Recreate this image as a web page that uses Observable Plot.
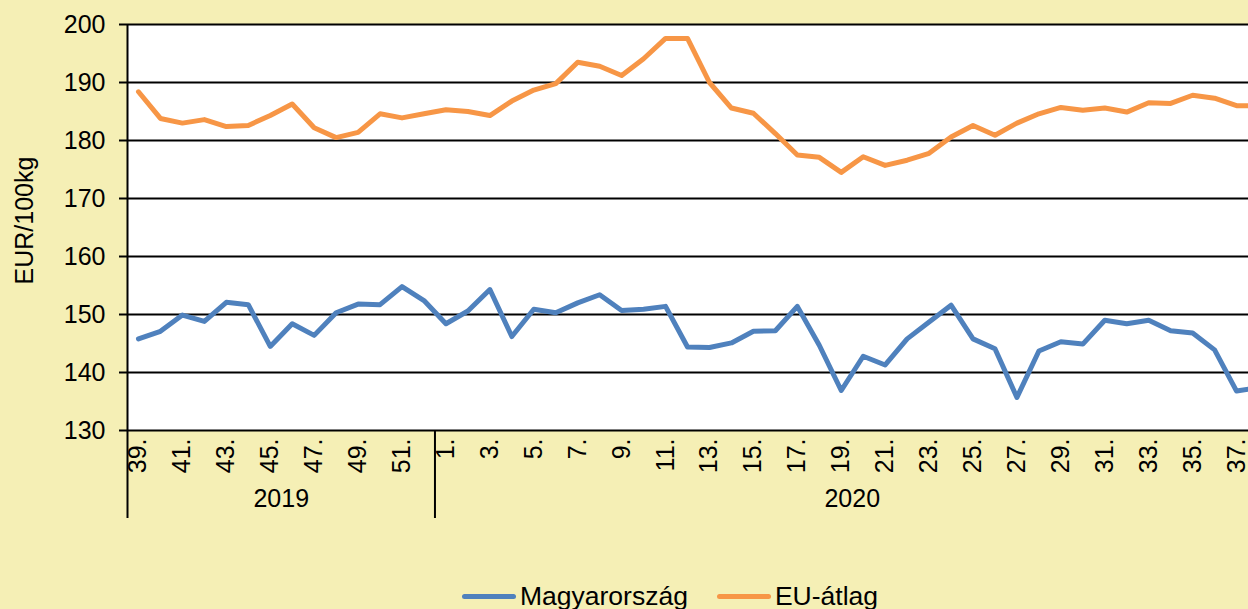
<!DOCTYPE html>
<html>
<head>
<meta charset="utf-8">
<script src="https://cdn.jsdelivr.net/npm/d3@7"></script>
<script src="https://cdn.jsdelivr.net/npm/@observablehq/plot@0.6"></script>
<style>
  html, body { margin: 0; padding: 0; background: #F5EFB5; overflow: hidden; width: 1248px; height: 609px; }
  #wrap { position: relative; width: 1248px; height: 609px; overflow: hidden; font-family: "Liberation Sans", Arial, sans-serif; }
  #chart { position: absolute; left: 0; top: 0; width: 1269px; }
  #chart svg { max-width: none !important; }
  #legend { position: absolute; top: 583px; left: 462px; display: flex; align-items: center; font-size: 26.5px; line-height: 27px; color: #000; white-space: nowrap; }
  .sw { display: inline-block; width: 54px; height: 5px; border-radius: 3px; margin-right: 4px; }
  .item { display: flex; align-items: center; margin-right: 29px; }
</style>
</head>
<body>
<div id="wrap">
  <div id="chart"></div>
  <div id="legend"></div>
</div>
<script>
// Weeks: 2019 weeks 39..52, 2020 weeks 1..38
const years = ["2019", "2020"];
const weeks2019 = [39, 40, 41, 42, 43, 44, 45, 46, 47, 48, 49, 50, 51, 52];
const weeks2020 = [1, 2, 3, 4, 5, 6, 7, 8, 9, 10, 11, 12, 13, 14, 15, 16, 17, 18, 19, 20,
  21, 22, 23, 24, 25, 26, 27, 28, 29, 30, 31, 32, 33, 34, 35, 36, 37, 38];
const seriesNames = ["Magyarország", "EU-átlag"];
const seriesColors = ["#4F81BD", "#F79646"];

const hungary = [
  145.8, 147.1, 149.9, 148.8, 152.1, 151.7, 144.5, 148.4, 146.4, 150.3, 151.8, 151.7, 154.8, 152.4,
  148.4, 150.6, 154.3, 146.2, 150.9, 150.3, 152.0, 153.4, 150.7, 150.9, 151.4, 144.4, 144.3, 145.1,
  147.1, 147.2, 151.4, 144.7, 136.9, 142.8, 141.3, 145.8, 148.7, 151.6, 145.8, 144.1, 135.7, 143.7,
  145.3, 144.9, 149.0, 148.4, 149.0, 147.2, 146.8, 143.9, 136.8, 137.4
];
const euAverage = [
  188.4, 183.8, 183.0, 183.6, 182.4, 182.6, 184.3, 186.3, 182.2, 180.5, 181.4, 184.6, 183.9, 184.6,
  185.3, 185.0, 184.3, 186.8, 188.7, 189.8, 193.5, 192.8, 191.2, 194.1, 197.6, 197.6, 190.0, 185.6,
  184.7, 181.2, 177.5, 177.1, 174.5, 177.2, 175.7, 176.6, 177.8, 180.6, 182.6, 180.9, 183.0, 184.6,
  185.7, 185.2, 185.6, 184.9, 186.5, 186.4, 187.8, 187.3, 186.0, 186.0
];
const yTicks = [130, 140, 150, 160, 170, 180, 190, 200];

// Build table
const weekLabels = [...weeks2019, ...weeks2020].map(w => w + ".");
const data = [];
weekLabels.forEach((lab, i) => {
  data.push({i, series: seriesNames[0], value: hungary[i]});
  data.push({i, series: seriesNames[1], value: euAverage[i]});
});
const n = weekLabels.length;
const xTicks = d3.range(0, n).filter(i => i % 2 === 0 && i < n - 1);
const groups = [
  {year: years[0], start: -0.5, end: weeks2019.length - 0.5},
  {year: years[1], start: weeks2019.length - 0.5, end: n - 0.5}
];
const seps = [groups[0].start, groups[0].end, groups[1].end];

const fontSize = 25;
const chart = Plot.plot({
  width: 1269,
  height: 560,
  marginLeft: 127,
  marginRight: 0,
  marginTop: 24,
  marginBottom: 130,
  style: {fontFamily: "'Liberation Sans', Arial, sans-serif", fontSize: fontSize + "px", background: "transparent", color: "#000", overflow: "visible", maxWidth: "none"},
  x: {type: "linear", domain: [-0.5, n - 0.5]},
  y: {domain: [130, 200]},
  color: {domain: seriesNames, range: seriesColors},
  marks: [
    Plot.frame({fill: "white", stroke: null}),
    Plot.ruleY(yTicks, {stroke: "#000", strokeWidth: 2}),
    Plot.axisY(yTicks, {tickSize: 8, tickPadding: 14, fontSize: fontSize, label: null, stroke: "#000", strokeWidth: 2}),
    Plot.text(["EUR/100kg"], {frameAnchor: "left", textAnchor: "middle", dx: -103, dy: -7, rotate: -90, fontSize: fontSize, text: d => d}),
    Plot.ruleX([-0.5], {stroke: "#000", strokeWidth: 2}),
    Plot.ruleX(seps, {stroke: "#000", strokeWidth: 2, insetTop: 406, insetBottom: -88}),
    Plot.axisX(xTicks, {tickSize: 0, tickPadding: 8, tickRotate: -90, fontSize: fontSize, tickFormat: i => weekLabels[i], label: null}),
    Plot.text(groups, {x: d => (d.start + d.end) / 2, text: "year", frameAnchor: "bottom", dy: 76, fontSize: fontSize}),
    Plot.line(data, {x: "i", y: "value", stroke: "series", strokeWidth: 5, strokeLinejoin: "round", strokeLinecap: "round"})
  ]
});
document.getElementById("chart").appendChild(chart);

const legend = document.getElementById("legend");
seriesNames.forEach((name, k) => {
  const item = document.createElement("span");
  item.className = "item";
  const sw = document.createElement("span");
  sw.className = "sw";
  sw.style.background = seriesColors[k];
  item.appendChild(sw);
  item.appendChild(document.createTextNode(name));
  legend.appendChild(item);
});
</script>
</body>
</html>
